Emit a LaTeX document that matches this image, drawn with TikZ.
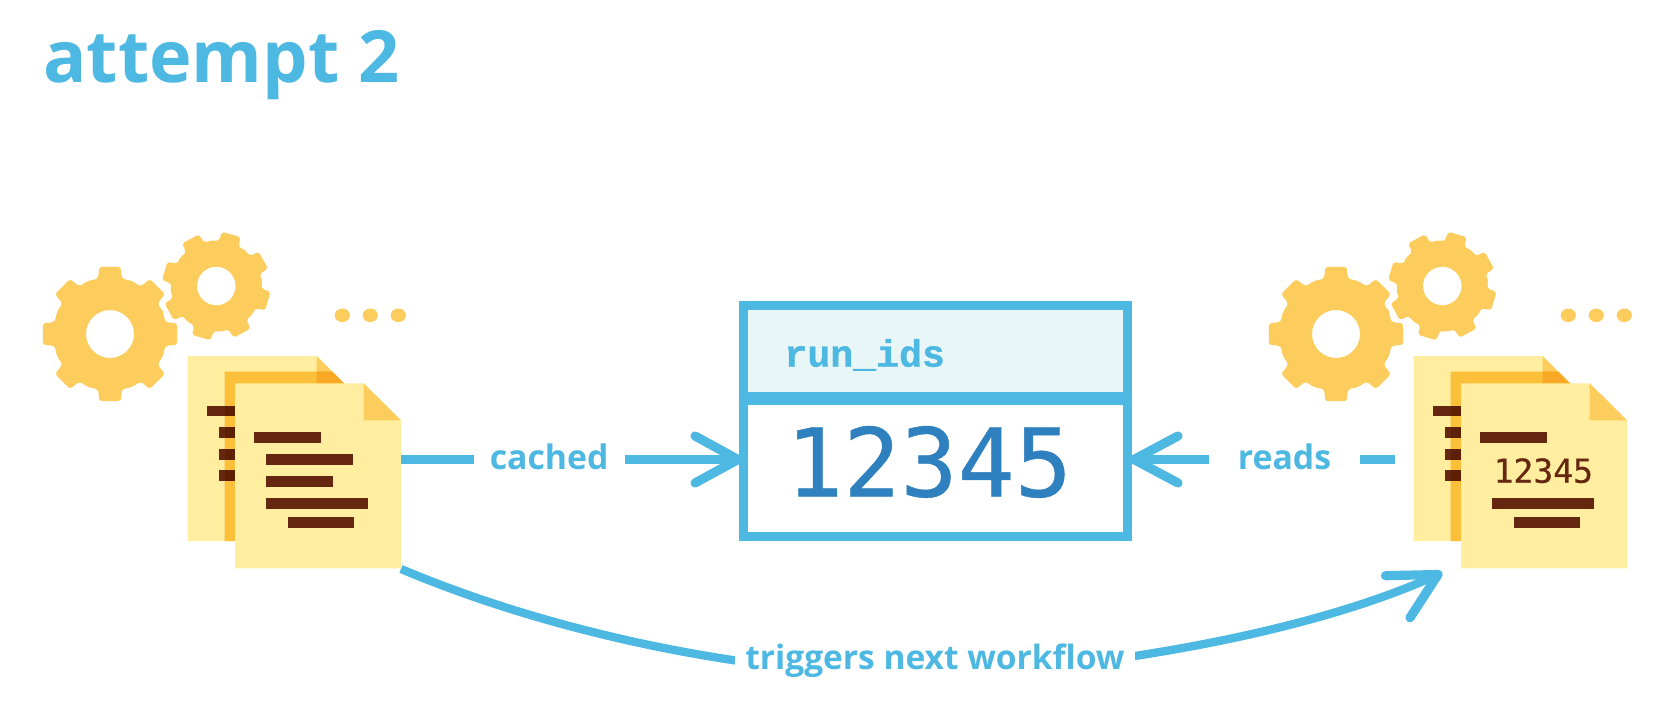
\documentclass[tikz,border=0pt]{standalone}
\usepackage{fontspec}
\setmainfont{Open Sans}
\newfontfamily\hdrfont[BoldFeatures={FakeBold=0.8}]{Liberation Mono}
\newfontfamily\digitfont[FakeBold=0.5]{DejaVu Sans Mono}
\definecolor{skyline}{HTML}{4DB8E2}
\definecolor{headfill}{HTML}{E9F6F7}
\definecolor{digitblue}{HTML}{2F80BE}
\definecolor{paleyellow}{HTML}{FFEE9F}
\definecolor{gold}{HTML}{FCCD5D}
\definecolor{orangeshade}{HTML}{FCBF3A}
\definecolor{darkorange}{HTML}{F9A825}
\definecolor{brown}{HTML}{65270F}
\definecolor{darkbrown}{HTML}{5E2003}
\tikzset{
  link/.style={draw=skyline,line width=4.15pt},
  barb/.style={draw=skyline,line width=4.6pt,line cap=round,line join=round},
  label/.style={text=skyline,font=\bfseries\fontsize{16.9}{20}\selectfont,inner sep=0pt,anchor=base},
  bar/.style={fill=brown},
  barback/.style={fill=darkbrown},
  gearfill/.style={fill=gold,even odd rule,rounded corners=1pt},
  tablebox/.style={draw=skyline,line width=4.5pt,inner sep=0pt,outer sep=0pt,anchor=north west},
}
% cx cy outer body hole toothangle-tip toothangle-base rot
\newcommand{\gearat}[8]{%
  \begin{scope}[shift={(#1,#2)}]
    \path[gearfill] (#8-22.5:#4)
      \foreach \k [evaluate=\k as \a using \k*45+#8] in {0,...,7}{
        -- (\a-22.5:#4)
        -- (\a-#7-2:#4-1)
        -- (\a-#7:#4-0.4)
        -- (\a-#6:#3)
        -- (\a+#6:#3)
        -- (\a+#7:#4-0.4)
        -- (\a+#7+2:#4-1)
      } -- cycle
      (0,0) circle[radius=#5];
  \end{scope}}
\newcommand{\bothgears}{%
  \gearat{110}{334}{68}{57.5}{24}{9}{12}{0}%
  \gearat{216.3}{286}{54.5}{46}{19.3}{10}{13}{16.3}%
  \fill[gold] (342.3,315.3) ellipse[x radius=7.6,y radius=6.8];
  \fill[gold] (370.3,315.3) ellipse[x radius=7.6,y radius=6.8];
  \fill[gold] (398.3,315.3) ellipse[x radius=7.6,y radius=6.8];}
\newcommand{\fileback}{%
  \fill[paleyellow] (187.7,356) -- (316.7,356) -- (353.7,393) -- (353.7,541) -- (187.7,541) -- cycle;
  \fill[gold] (316.7,356) -- (353.7,393) -- (316.7,393) -- cycle;
  \fill[orangeshade] (224.7,371.7) -- (332.4,371.7) -- (353.7,393) -- (353.7,541) -- (224.7,541) -- cycle;
  \fill[darkorange] (316.7,371.7) -- (332.4,371.7) -- (353.7,393) -- (316.7,393) -- cycle;
  \fill[bar] (207,405.7) rectangle (224.7,416.3);
  \fill[barback] (224.7,405.7) rectangle (236,416.3);
  \fill[bar] (219,427.3) rectangle (224.7,438);
  \fill[barback] (224.7,427.3) rectangle (236,438);
  \fill[bar] (219,449) rectangle (224.7,459.7);
  \fill[barback] (224.7,449) rectangle (236,459.7);
  \fill[bar] (219,470.3) rectangle (224.7,481.3);
  \fill[barback] (224.7,470.3) rectangle (236,481.3);
  \fill[paleyellow] (235,383.3) -- (363.7,383.3) -- (401,420.3) -- (401,568.3) -- (235,568.3) -- cycle;
  \fill[gold] (363.7,383.3) -- (401,420.3) -- (363.7,420.3) -- cycle;}
\begin{document}
\begin{tikzpicture}[x=0.5pt,y=-0.5pt]
\path[use as bounding box,fill=white] (0,0) rectangle (1664,712);

\node[text=skyline,font=\bfseries\fontsize{36}{40}\selectfont,inner sep=0pt,anchor=base west] (title) at (43,82.7) {attempt 2};

% left stack
\bothgears
\fileback
\fill[bar] (254,432.3) rectangle (320.7,443.3);
\fill[bar] (266,454.3) rectangle (353.3,465);
\fill[bar] (266,476) rectangle (332.7,486.7);
\fill[bar] (266,498) rectangle (368.3,508.7);
\fill[bar] (288,517.3) rectangle (354.3,528);

% right stack
\begin{scope}[xshift=613pt]
\bothgears
\fileback
\fill[bar] (254,432.3) rectangle (320.7,443.3);
\fill[bar] (266,498) rectangle (368.3,508.7);
\fill[bar] (288,517.3) rectangle (354.3,528);
\end{scope}
\node[text=brown,font=\digitfont\fontsize{16.5}{18}\selectfont,inner sep=0pt,anchor=base] (docnum) at (1543.3,482.7) {12345};

% table
\node[tablebox,fill=headfill,minimum width=191.85pt,minimum height=46.6pt] (header) at (743.8,305.5) {};
\node[tablebox,fill=white,minimum width=191.85pt,minimum height=68.75pt] (valuecell) at (743.8,398.7) {};
\draw[skyline,line width=6.35pt] (header.south west) -- (header.south east);
\node[text=skyline,font=\hdrfont\bfseries\fontsize{19.1}{22}\selectfont,inner sep=0pt,anchor=base] (hdrlabel) at (864.7,366.7) {run\_ids};
\node[text=digitblue,font=\digitfont\fontsize{47.5}{50}\selectfont,inner sep=0pt,anchor=base] (bigvalue) at (929,496.5) {12345};

% cached connector
\coordinate (cachedstart) at (401,459.5);
\coordinate (cachedtip) at (738,459.5);
\coordinate (cachedbarbA) at (695,436);
\coordinate (cachedbarbB) at (695,483);
\node[label,inner xsep=7.9pt,inner ysep=3pt] (cached) at (549.2,469) {cached};
\draw[link] (cachedstart) -- (cached.west |- cachedstart);
\draw[link] (cached.east |- cachedtip) -- (cachedtip);
\draw[barb] (cachedbarbA) -- (cachedtip) -- (cachedbarbB);

% reads connector
\coordinate (readsstart) at (1395,459.5);
\coordinate (readstip) at (1134,459.5);
\coordinate (readsbarbA) at (1178,436);
\coordinate (readsbarbB) at (1178,483);
\node[label,inner xsep=14pt,inner ysep=3pt] (reads) at (1284.5,469) {reads};
\draw[link] (readsstart) -- (reads.east |- readsstart);
\draw[link] (reads.west |- readstip) -- (readstip);
\draw[barb] (readsbarbA) -- (readstip) -- (readsbarbB);

% curved connector
\coordinate (curvestart) at (401,569);
\coordinate (curvemid) at (935,676);
\coordinate (curvetip) at (1438,574.5);
\coordinate (curvebarbA) at (1385.5,575.7);
\coordinate (curvebarbB) at (1410,617.7);
\draw[link] (curvestart) .. controls (560,636) and (760,676) .. (curvemid)
  .. controls (1080,670) and (1300,638) .. (curvetip);
\draw[barb] (curvebarbA) -- (curvetip) -- (curvebarbB);
\node[label,fill=white,font=\bfseries\fontsize{16.75}{20}\selectfont,inner xsep=5pt,inner ysep=5pt] (trigger) at (935,669.3) {triggers next workflow};
\end{tikzpicture}
\end{document}
